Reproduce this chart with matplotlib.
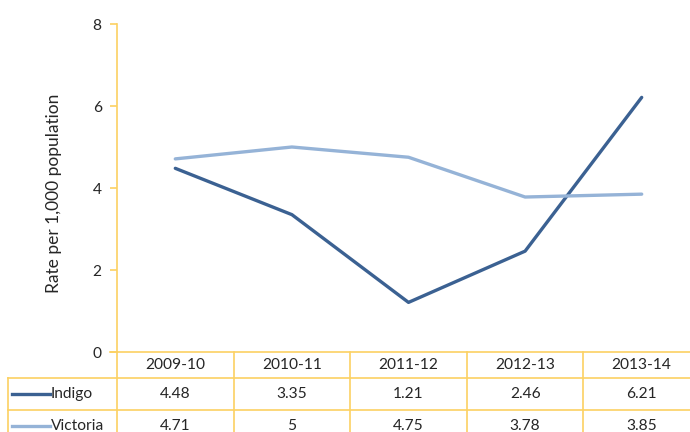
import matplotlib.pyplot as plt

years = ["2009-10", "2010-11", "2011-12", "2012-13", "2013-14"]
indigo = [4.48, 3.35, 1.21, 2.46, 6.21]
victoria = [4.71, 5, 4.75, 3.78, 3.85]
indigo_txt = ["4.48", "3.35", "1.21", "2.46", "6.21"]
victoria_txt = ["4.71", "5", "4.75", "3.78", "3.85"]

plt.rcParams['font.family'] = ['Lato', 'DejaVu Sans']
gold = '#FCD162'
dark = '#3B6192'
light = '#95B3D7'
txt = '#262626'
fs = 11.2

W, H = 690, 432
fig = plt.figure(figsize=(W / 100, H / 100), dpi=100)
ax = fig.add_axes([117 / W, 80 / H, (700 - 117) / W, 328 / H])

x = list(range(len(years)))
ax.plot(x, indigo, color=dark, lw=2.4, solid_capstyle='round')
ax.plot(x, victoria, color=light, lw=2.4, solid_capstyle='round')

ax.set_xlim(-0.5, 4.5)
ax.set_ylim(0, 8)
ax.set_yticks([0, 2, 4, 6, 8])
ax.set_xticks([])
for s in ['top', 'right', 'bottom']:
    ax.spines[s].set_visible(False)
ax.spines['left'].set_color(gold)
ax.spines['left'].set_linewidth(1.2)
ax.tick_params(axis='y', colors=gold, labelcolor=txt, labelsize=fs, length=5, width=1.2, pad=6)
ax.set_ylabel("Rate per 1,000 population", fontsize=12.5, color=txt)
ax.yaxis.set_label_coords(-0.095, 0.485)

# data table below the plot, rows in pixels
px = 1 / 328
trans = ax.get_xaxis_transform()
rows = [0, -26 * px, -58 * px, -90 * px]
x_left = -0.5 - (117 - 8) / 116.6

ax.plot([-0.56, 4.6], [0, 0], transform=trans, color=gold, lw=1.2, clip_on=False)
for r in rows[1:]:
    ax.plot([x_left, 4.6], [r, r], transform=trans, color=gold, lw=1.2, clip_on=False)
for b in [-0.5, 0.5, 1.5, 2.5, 3.5, 4.5]:
    ax.plot([b, b], [0, rows[3]], transform=trans, color=gold, lw=1.2, clip_on=False)
ax.plot([x_left, x_left], [rows[1], rows[3]], transform=trans, color=gold, lw=1.2, clip_on=False)

def mid(i):
    return (rows[i] + rows[i + 1]) / 2

for i, y in enumerate(years):
    ax.text(i, mid(0), y, transform=trans, ha='center', va='center', fontsize=fs, color=txt, clip_on=False)
    ax.text(i, mid(1), indigo_txt[i], transform=trans, ha='center', va='center', fontsize=fs, color=txt, clip_on=False)
    ax.text(i, mid(2), victoria_txt[i], transform=trans, ha='center', va='center', fontsize=fs, color=txt, clip_on=False)

# legend keys in the first column
for r, name, col in [(1, "Indigo", dark), (2, "Victoria", light)]:
    x0 = x_left + 4 / 116.6
    x1 = x_left + 42 / 116.6
    ax.plot([x0, x1], [mid(r), mid(r)], transform=trans, color=col, lw=2.4, clip_on=False)
    ax.text(x1 + 1 / 116.6, mid(r), name, transform=trans, ha='left', va='center',
            fontsize=fs, color=txt, clip_on=False)

plt.savefig("out.png", dpi=100)
